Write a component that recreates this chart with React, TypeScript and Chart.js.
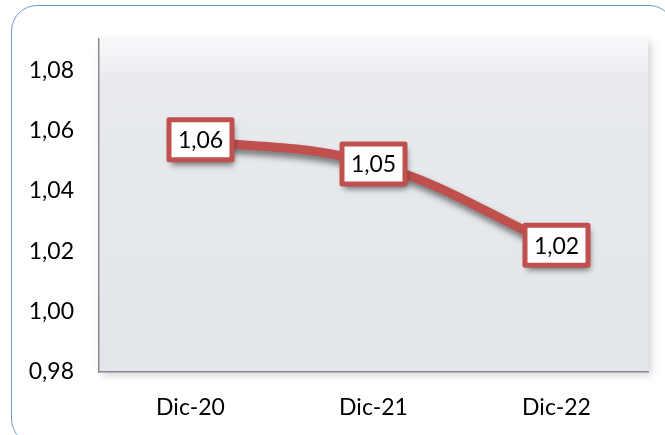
import React, { useEffect, useRef } from "react";
import { Chart, registerables } from "chart.js";

Chart.register(...registerables);

const categories = ["Dic-20", "Dic-21", "Dic-22"];
const values = [1.057, 1.049, 1.022];
const yTicks = [0.98, 1.0, 1.02, 1.04, 1.06, 1.08];
const yMin = 0.98;
const yMax = 1.0905;

const RED = "#c0504d";
const FONT = "Lato, 'Noto Sans', sans-serif";

const fmt = (v: number) => v.toFixed(2).replace(".", ",");

const plotBg = {
  id: "plotBg",
  beforeDraw(chart: any) {
    const { ctx, chartArea: a } = chart;
    ctx.save();
    ctx.shadowColor = "rgba(0,0,0,0.18)";
    ctx.shadowBlur = 8;
    ctx.shadowOffsetX = 3;
    ctx.shadowOffsetY = 3;
    const g = ctx.createLinearGradient(0, a.top, 0, a.bottom);
    g.addColorStop(0, "#f8f9fb");
    g.addColorStop(0.12, "#e8eaee");
    g.addColorStop(1, "#e2e5e9");
    ctx.fillStyle = g;
    ctx.fillRect(a.left, a.top, a.right - a.left, a.bottom - a.top);
    ctx.restore();
  },
};

const lineShadow = {
  id: "lineShadow",
  beforeDatasetDraw(chart: any) {
    const ctx = chart.ctx;
    ctx.save();
    ctx.shadowColor = "rgba(0,0,0,0.5)";
    ctx.shadowBlur = 6;
    ctx.shadowOffsetX = 2;
    ctx.shadowOffsetY = 5;
  },
  afterDatasetDraw(chart: any) {
    chart.ctx.restore();
  },
};

const labelBoxes = {
  id: "labelBoxes",
  afterDatasetsDraw(chart: any) {
    const { ctx } = chart;
    const meta = chart.getDatasetMeta(0);
    const data = chart.data.datasets[0].data as number[];
    meta.data.forEach((pt: any, i: number) => {
      const w = 63;
      const h = 40;
      const cx = pt.x + (i === 0 ? 10 : 0);
      const cy = pt.y;
      const x = cx - w / 2;
      const y = cy - h / 2;
      ctx.save();
      ctx.shadowColor = "rgba(0,0,0,0.5)";
      ctx.shadowBlur = 6;
      ctx.shadowOffsetX = 2;
      ctx.shadowOffsetY = 5;
      ctx.fillStyle = "#ffffff";
      ctx.strokeStyle = RED;
      ctx.lineWidth = 5;
      ctx.lineJoin = "round";
      ctx.beginPath();
      ctx.rect(x, y, w, h);
      ctx.fill();
      ctx.shadowColor = "transparent";
      ctx.stroke();
      ctx.fillStyle = "#000";
      ctx.font = `23px ${FONT}`;
      ctx.textAlign = "center";
      ctx.textBaseline = "middle";
      ctx.fillText(fmt(data[i]), cx, cy + 1);
      ctx.restore();
    });
  },
};

export default function App() {
  const ref = useRef<HTMLCanvasElement | null>(null);
  useEffect(() => {
    if (!ref.current) return;
    const chart = new Chart(ref.current, {
      type: "line",
      data: {
        labels: categories,
        datasets: [
          {
            data: values,
            borderColor: RED,
            borderWidth: 9,
            tension: 0.4,
            pointRadius: 0,
            fill: false,
          },
        ],
      },
      options: {
        animation: false,
        responsive: false,
        layout: { padding: { top: 35, right: 17, left: 0, bottom: 0 } },
        plugins: { legend: { display: false }, tooltip: { enabled: false } },
        scales: {
          x: {
            offset: true,
            grid: { display: false, drawTicks: false },
            border: { display: true, color: "#8c8c8c", width: 1.5 },
            ticks: { color: "#000", font: { family: FONT, size: 23 }, padding: 22 },
            afterFit: (s: any) => {
              s.height = 63;
            },
          },
          y: {
            min: yMin,
            max: yMax,
            grid: { display: false, drawTicks: false },
            border: { display: true, color: "#8c8c8c", width: 1.5 },
            ticks: {
              color: "#000",
              font: { family: FONT, size: 23 },
              padding: 25,
              callback: (v: any) => fmt(Number(v)),
            },
            afterBuildTicks: (s: any) => {
              s.ticks = yTicks.map((v) => ({ value: v }));
            },
            afterFit: (s: any) => {
              s.width = 99;
            },
          },
        },
      },
      plugins: [plotBg, lineShadow, labelBoxes],
    });
    return () => chart.destroy();
  }, []);

  return (
    <div
      style={{
        position: "absolute",
        left: 0,
        top: 0,
        width: 665,
        height: 435,
        overflow: "hidden",
        background: "#fff",
      }}
    >
      <div
        style={{
          position: "absolute",
          left: 11,
          top: 5,
          width: 664,
          height: 440,
          border: "1.5px solid #6f9bd8",
          borderRadius: 26,
          boxSizing: "border-box",
        }}
      />
      <canvas
        ref={ref}
        width={665}
        height={435}
        style={{ position: "absolute", left: 0, top: 0, width: 665, height: 435 }}
      />
    </div>
  );
}
